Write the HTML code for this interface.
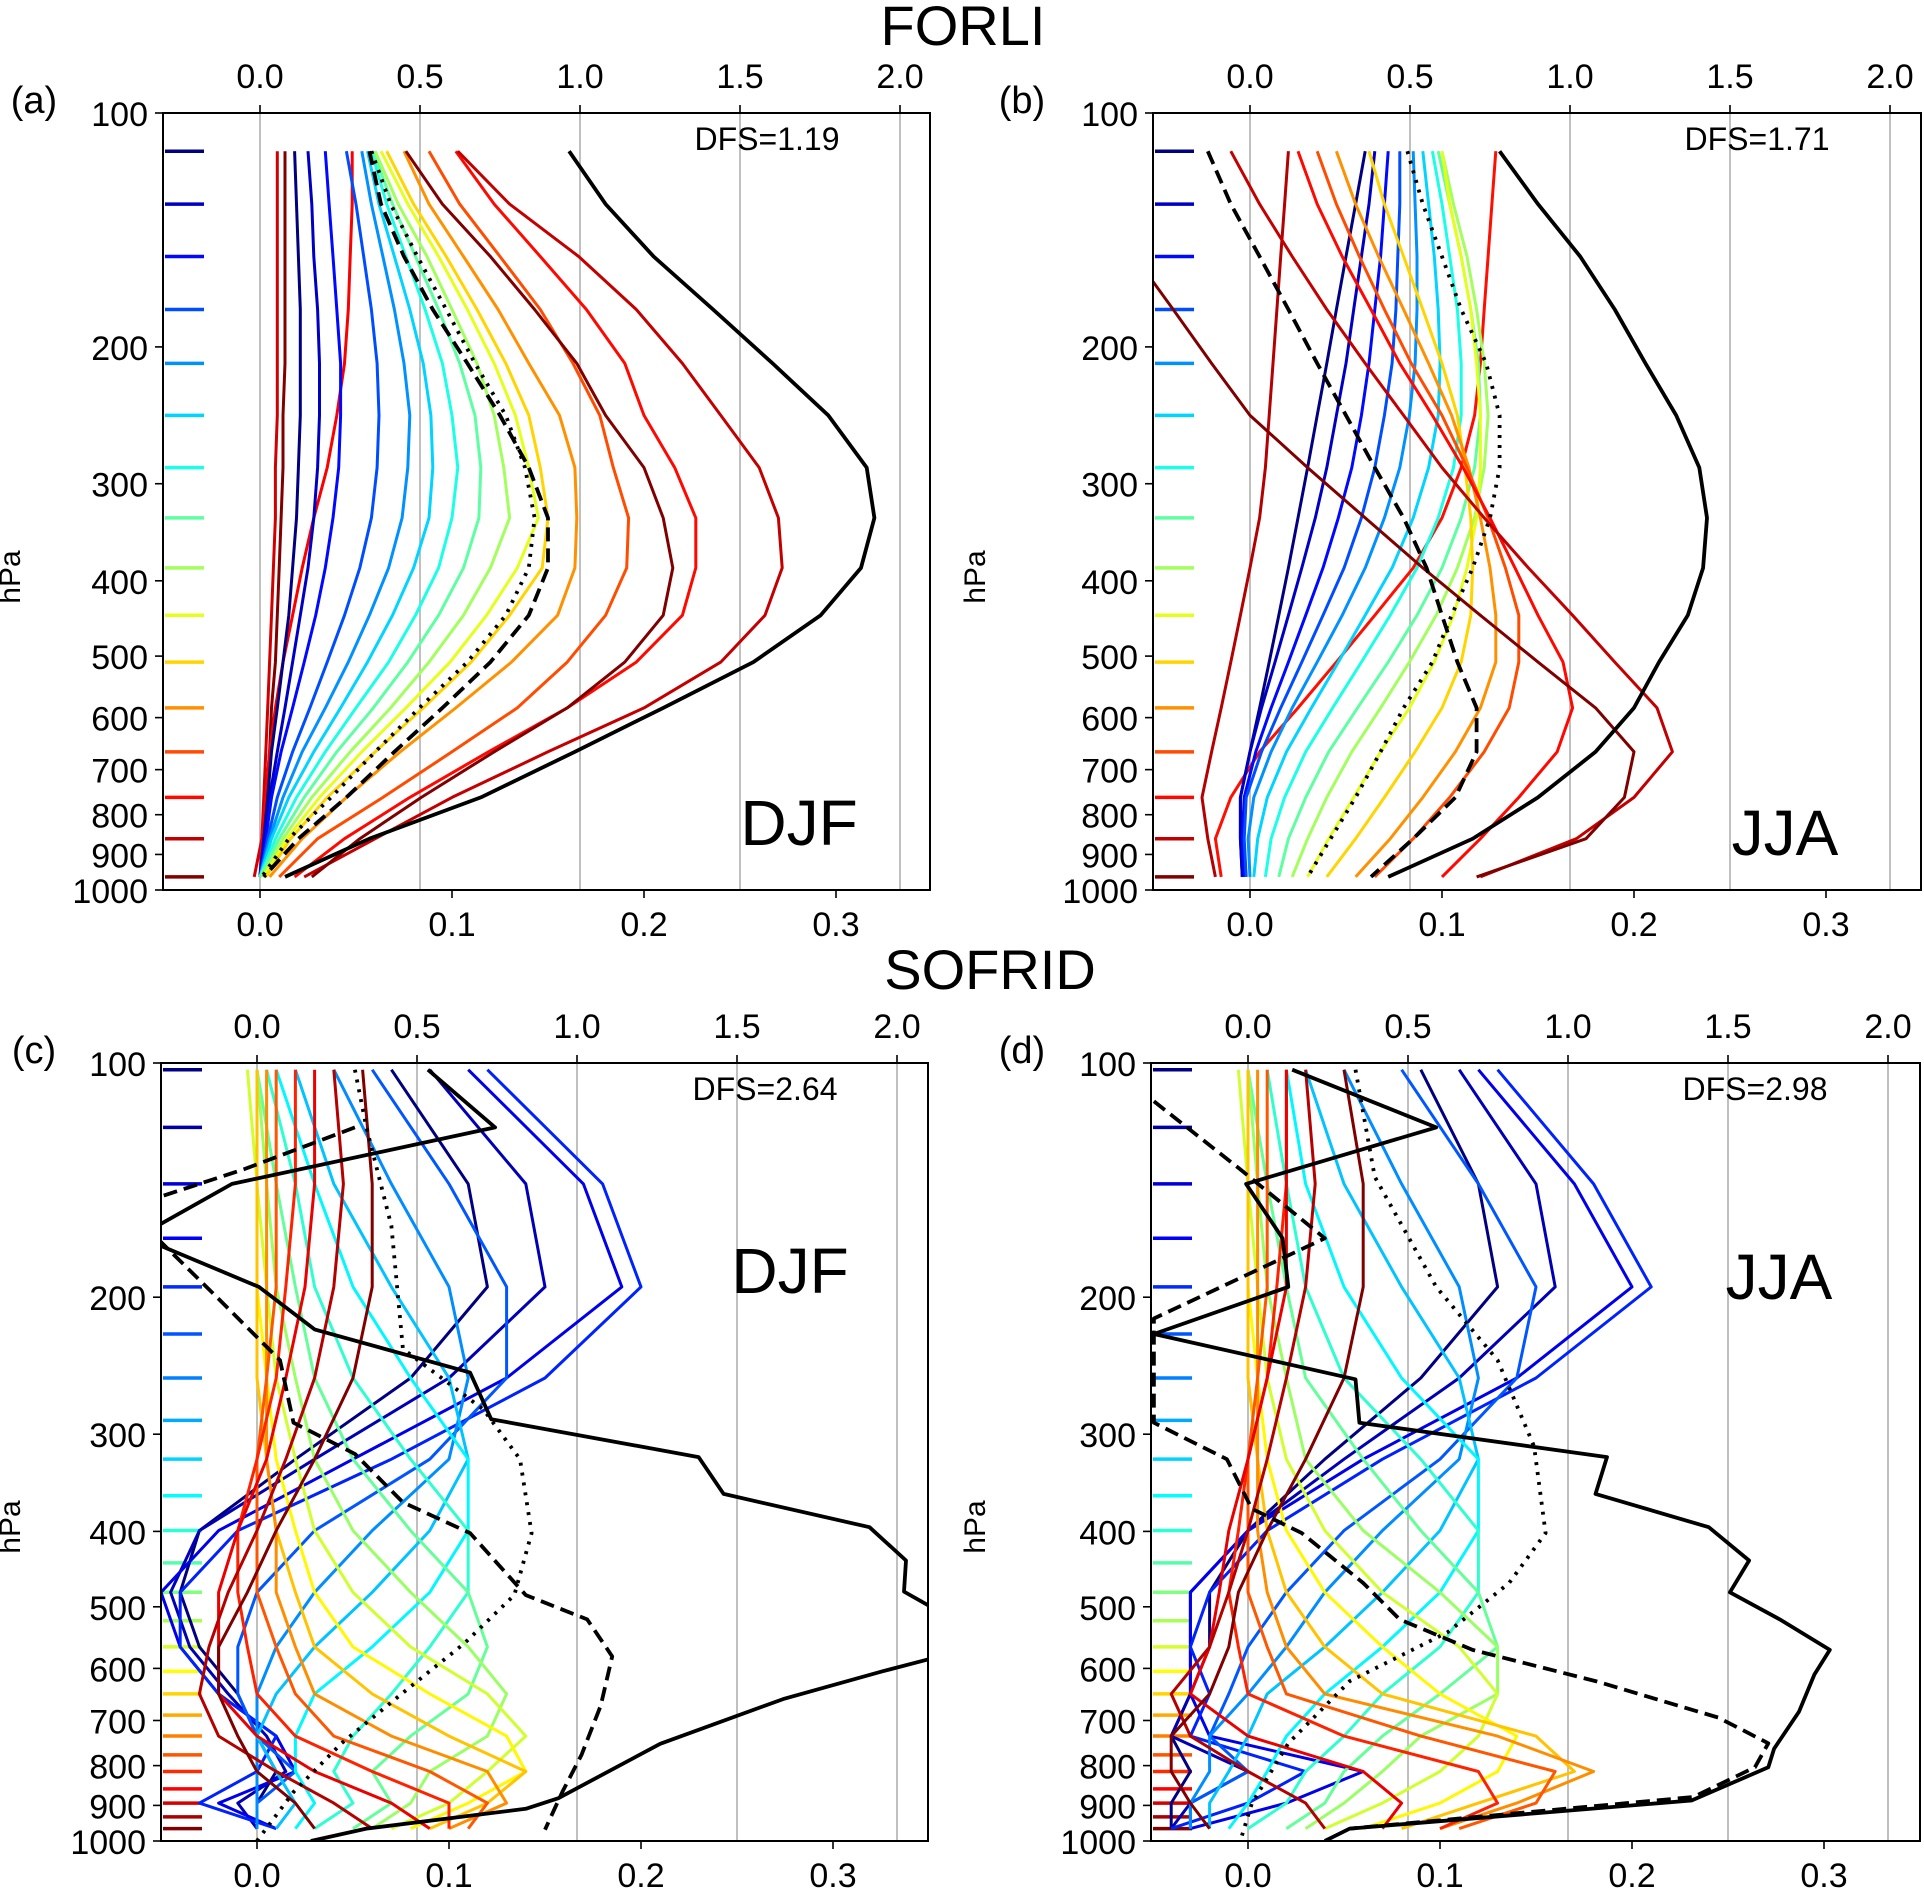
<!DOCTYPE html>
<html><head><meta charset="utf-8">
<style>
html,body{margin:0;padding:0;background:#fff;}
svg{display:block;font-family:"Liberation Sans","DejaVu Sans",sans-serif;}
</style></head>
<body>
<svg id="fig" width="1924" height="1888" viewBox="0 0 1924 1888" xmlns="http://www.w3.org/2000/svg">
<rect x="0" y="0" width="1924" height="1888" fill="#fff"/>
<text x="963" y="45" font-size="56" text-anchor="middle">FORLI</text>
<text x="990" y="989" font-size="56" text-anchor="middle">SOFRID</text>
</svg>
<script>
// ---------- data ----------
const levels16 = [112,131,153,179,210,245,286,332,385,443,509,583,664,760,859,962];
const levels13 = [102,143,194,254,323,399,479,563,647,733,814,894,964];
const markers25 = [102,121,143,168,194,223,254,288,323,360,399,439,479,521,563,605,647,689,733,775,814,857,894,931,964];
const bottomTicks = [0.0,0.1,0.2,0.3];
const bottomTickLabels = ["0.0","0.1","0.2","0.3"];
const topTicks = [0.0,0.5,1.0,1.5,2.0];
const topTickLabels = ["0.0","0.5","1.0","1.5","2.0"];
const pTicks = [100,200,300,400,500,600,700,800,900,1000];
const pTickLabels = ["100","200","300","400","500","600","700","800","900","1000"];

// panel a: FORLI DJF
const aLines = [
[.018,.019,.02,.021,.021,.021,.02,.019,.017,.015,.012,.009,.006,.004,.002,0],
[.025,.027,.028,.03,.031,.031,.03,.028,.025,.021,.017,.013,.009,.005,.002,0],
[.034,.036,.038,.04,.042,.042,.041,.038,.034,.029,.023,.017,.011,.006,.003,0],
[.045,.05,.054,.058,.061,.062,.061,.058,.052,.044,.035,.026,.017,.009,.004,0],
[.053,.058,.064,.07,.075,.078,.077,.074,.067,.057,.046,.034,.022,.012,.005,0],
[.056,.062,.07,.078,.085,.089,.09,.088,.08,.069,.056,.042,.028,.015,.006,0],
[.058,.066,.076,.086,.095,.1,.103,.1,.093,.081,.067,.05,.034,.019,.008,0],
[.059,.069,.081,.093,.104,.112,.115,.114,.106,.093,.077,.059,.04,.023,.01,0],
[.06,.072,.087,.1,.113,.122,.127,.13,.12,.106,.088,.068,.047,.027,.012,.001],
[.063,.077,.093,.108,.122,.133,.14,.145,.134,.118,.099,.076,.053,.031,.014,.002],
[.066,.08,.097,.113,.128,.14,.146,.15,.147,.13,.11,.085,.06,.035,.016,.003],
[.075,.088,.106,.124,.14,.156,.164,.165,.164,.155,.131,.102,.073,.045,.022,.005],
[.088,.104,.125,.146,.163,.177,.184,.192,.191,.18,.16,.134,.1,.064,.03,.01],
[.102,.122,.146,.17,.19,.2,.216,.227,.227,.22,.196,.16,.119,.078,.044,.018],
[.103,.13,.166,.196,.22,.24,.26,.27,.272,.263,.24,.2,.15,.1,.06,.023],
[.076,.095,.12,.143,.165,.18,.2,.21,.215,.21,.19,.16,.122,.084,.052,.027]];
const aExtraDarkRed = [.013,.013,.013,.013,.013,.012,.012,.011,.01,.009,.008,.006,.005,.003,.002,0];
const aExtraRed = [.009,.009,.009,.009,.009,.009,.008,.008,.007,.006,.005,.004,.003,.002,.001,-.003];
const aExtraOrangeRed = [.048,.048,.047,.046,.044,.04,.035,.028,.022,.017,.012,.008,.005,.003,.001,0];
const aBlack = [.161,.18,.205,.236,.267,.296,.316,.32,.313,.292,.257,.21,.164,.115,.057,.013];
const aDashed = [.057,.063,.075,.09,.108,.125,.14,.15,.15,.14,.12,.095,.07,.045,.02,.002];
const aDotted = [.058,.068,.082,.097,.112,.128,.138,.143,.14,.128,.108,.083,.06,.037,.015,.001];

// panel b: FORLI JJA
const bLines = [
[.06,.055,.05,.045,.04,.035,.03,.025,.02,.015,.01,.005,0,-.005,-.005,-.004],
[.065,.062,.058,.054,.05,.045,.04,.034,.027,.02,.013,.006,0,-.005,-.005,-.004],
[.072,.07,.068,.065,.062,.058,.053,.046,.038,.029,.02,.011,.003,-.003,-.004,-.003],
[.078,.078,.077,.076,.074,.07,.065,.058,.049,.038,.027,.016,.006,-.002,-.003,-.002],
[.085,.086,.087,.087,.086,.083,.078,.07,.06,.048,.035,.022,.011,.002,-.001,0],
[.09,.093,.096,.098,.099,.098,.093,.085,.074,.06,.046,.032,.019,.009,.004,.002],
[.095,.1,.104,.108,.11,.11,.106,.098,.087,.073,.058,.043,.029,.018,.011,.008],
[.098,.104,.11,.115,.119,.12,.117,.11,.1,.087,.072,.056,.041,.029,.02,.015],
[.1,.106,.113,.118,.122,.124,.122,.117,.108,.097,.083,.068,.053,.04,.03,.022],
[.1,.104,.11,.115,.118,.12,.12,.118,.113,.106,.096,.083,.068,.054,.041,.03],
[.062,.07,.08,.09,.1,.108,.112,.115,.116,.115,.11,.1,.086,.07,.055,.04],
[.045,.055,.067,.08,.093,.105,.114,.12,.125,.128,.128,.12,.107,.09,.073,.055],
[.035,.045,.057,.07,.084,.1,.113,.124,.133,.14,.14,.135,.122,.104,.085,.065],
[.025,.035,.048,.063,.078,.095,.111,.125,.138,.15,.163,.168,.16,.14,.12,.1],
[-.01,.005,.022,.04,.06,.08,.1,.122,.145,.168,.19,.212,.22,.2,.17,.12],
[-.1,-.08,-.06,-.04,-.02,0,.03,.06,.09,.12,.15,.18,.2,.195,.175,.118]];
const bExtraRed = [.128,.126,.124,.122,.12,.117,.11,.1,.085,.065,.045,.025,.005,-.01,-.018,-.015];
const bExtraDarkRed = [.02,.018,.016,.014,.012,.01,.008,.005,0,-.005,-.01,-.015,-.02,-.025,-.022,-.018];
const bBlack = [.13,.15,.172,.19,.206,.222,.234,.238,.236,.228,.213,.2,.18,.15,.116,.072];
const bDashed = [-.022,-.01,.005,.02,.035,.05,.065,.08,.092,.1,.108,.118,.118,.107,.085,.063];
const bDotted = [.082,.09,.1,.11,.123,.13,.13,.125,.116,.105,.095,.08,.068,.055,.042,.03];

// panel c: SOFRID DJF
const cLines = [
[.07,.11,.12,.08,.02,-.03,-.04,-.03,-.01,0,.01,0,0],
[.09,.14,.15,.1,.03,-.03,-.045,-.035,-.015,.005,.015,-.01,0],
[.11,.17,.19,.13,.05,-.02,-.05,-.04,-.02,.01,.02,-.02,.01],
[.12,.18,.2,.15,.07,-.01,-.04,-.04,-.02,.01,0,-.03,.01],
[.06,.1,.13,.13,.09,.03,0,-.01,-.01,0,.02,0,0],
[.04,.07,.1,.11,.1,.06,.03,.01,0,0,0,0,0],
[.02,.04,.07,.1,.11,.09,.06,.03,.01,0,.01,.02,.01],
[.01,.03,.05,.08,.11,.11,.09,.06,.03,.02,.02,.03,.02],
[.005,.02,.03,.05,.08,.11,.11,.09,.07,.05,.04,.05,.03],
[0,.01,.02,.03,.05,.08,.11,.12,.11,.08,.06,.07,.05],
[0,.005,.01,.02,.03,.05,.08,.11,.13,.12,.09,.08,.06],
[-.005,0,.005,.01,.02,.03,.05,.08,.12,.14,.12,.1,.07],
[0,0,0,.005,.01,.02,.03,.05,.09,.13,.14,.11,.08],
[0,0,0,0,.005,.01,.02,.03,.06,.1,.14,.12,.09],
[.005,.005,.005,.005,.005,.01,.01,.02,.03,.07,.12,.13,.1],
[.01,.01,.01,.005,0,0,0,.01,.02,.04,.09,.12,.11],
[.02,.02,.015,.01,0,-.01,-.01,-.005,0,.02,.06,.1,.1],
[.03,.03,.025,.015,.005,-.01,-.02,-.02,-.02,0,.03,.07,.09],
[.04,.045,.04,.03,.015,0,-.015,-.025,-.03,-.02,.01,.04,.06],
[.055,.06,.06,.05,.03,.01,-.005,-.02,-.02,-.01,0,.02,.03]];
const cBlackP = [102,121,143,162,171,194,220,250,287,321,358,395,436,478,500,583,605,657,750,881,909,964,1000];
const cBlackV = [.089,.124,-.013,-.052,-.052,.001,.03,.111,.122,.23,.243,.319,.338,.337,.351,.351,.326,.274,.21,.157,.14,.057,.028];
const cDashedP = [121,137,149,168,201,241,290,318,367,402,483,519,579,670,775,865,967];
const cDashedV = [.051,-.007,-.052,-.052,-.02,.012,.019,.051,.076,.111,.14,.172,.185,.179,.169,.159,.15];
const cDottedP = [102,121,162,233,279,323,402,483,557,645,749,865,1000];
const cDottedV = [.051,.057,.07,.076,.118,.137,.143,.134,.108,.076,.044,.019,0];

// panel d: SOFRID JJA
const dLines = [
[.09,.12,.13,.09,.04,0,-.02,-.02,-.03,-.04,-.03,-.04,-.04],
[.11,.15,.16,.11,.05,0,-.03,-.03,-.03,-.04,0,-.03,-.04],
[.12,.17,.2,.14,.06,0,-.03,-.03,-.03,-.02,.06,.02,-.03],
[.13,.18,.21,.15,.07,.01,-.02,-.03,-.02,-.03,.03,0,-.04],
[.08,.12,.15,.14,.1,.05,.02,0,-.01,-.02,0,-.03,-.03],
[.05,.08,.11,.12,.11,.07,.04,.02,0,-.02,-.02,-.03,-.03],
[.03,.05,.08,.11,.12,.1,.07,.04,.01,0,-.01,-.02,-.02],
[.02,.03,.05,.08,.12,.12,.1,.07,.04,.02,.01,0,-.01],
[.01,.02,.03,.05,.09,.12,.12,.1,.07,.05,.03,.02,0],
[0,.01,.02,.03,.06,.09,.12,.13,.1,.07,.05,.04,.02],
[0,.005,.01,.02,.03,.06,.1,.13,.13,.09,.07,.05,.03],
[-.005,0,.005,.01,.02,.04,.07,.11,.13,.12,.1,.07,.04],
[0,0,0,.005,.01,.02,.04,.07,.1,.14,.13,.1,.06],
[0,0,0,0,.005,.01,.02,.04,.07,.15,.17,.12,.08],
[.005,.005,.005,.005,.005,.005,.01,.02,.04,.13,.18,.14,.1],
[.01,.01,.01,.005,0,0,0,.01,.02,.09,.16,.15,.11],
[.02,.02,.015,.01,0,-.005,-.01,-.005,0,.05,.12,.13,.1],
[.02,.02,.02,.01,0,-.01,-.015,-.02,-.03,0,.06,.08,.07],
[.03,.035,.03,.02,.01,0,-.01,-.02,-.04,-.03,0,.03,.04],
[.05,.06,.06,.05,.03,.01,-.005,-.01,-.02,-.04,-.04,-.03,-.02]];
const dBlackP = [102,121,143,168,194,223,255,290,321,358,395,436,479,519,568,611,682,761,804,887,964,1000];
const dBlackV = [.023,.098,-.001,.018,.021,-.049,.056,.058,.187,.181,.24,.261,.251,.277,.303,.295,.287,.274,.271,.231,.053,.04];
const dDashedP = [112,137,168,213,290,323,374,402,466,519,568,623,694,749,804,878,964];
const dDashedV = [-.049,-.004,.04,-.049,-.049,-.011,.002,.028,.06,.079,.117,.181,.245,.271,.264,.232,.053];
const dDottedP = [102,140,194,241,311,402,466,539,623,749,895,1000];
const dDottedV = [.056,.066,.098,.13,.149,.155,.136,.104,.053,.021,.002,-.004];

// ---------- drawing ----------
const NS = "http://www.w3.org/2000/svg";
const svg = document.getElementById('fig');
function jet(t){
  const c = v => Math.round(255*Math.max(0,Math.min(1,v)));
  return `rgb(${c(1.5-Math.abs(4*t-3))},${c(1.5-Math.abs(4*t-2))},${c(1.5-Math.abs(4*t-1))})`;
}
function mk(tag, attrs, parent){
  const e = document.createElementNS(NS, tag);
  for (const k in attrs) e.setAttribute(k, attrs[k]);
  (parent||svg).appendChild(e);
  return e;
}
const panels = {
  a:{L:163,R:930,T:113,B:890,x0:260,label:"(a)",dfs:"DFS=1.19",season:"DJF",sx:799,sy:845,lx:34,hx:20},
  b:{L:1153,R:1921,T:113,B:890,x0:1250,label:"(b)",dfs:"DFS=1.71",season:"JJA",sx:1785,sy:855,lx:1022,hx:985},
  c:{L:161,R:928,T:1063,B:1841,x0:257,label:"(c)",dfs:"DFS=2.64",season:"DJF",sx:790,sy:1293,lx:34,hx:20},
  d:{L:1151,R:1920,T:1063,B:1841,x0:1248,label:"(d)",dfs:"DFS=2.98",season:"JJA",sx:1779,sy:1299,lx:1022,hx:985}
};
const SCALE = 1920;
function xs(P,v){ return P.x0 + v*SCALE; }
function ys(P,p){ return P.T + (P.B-P.T)*Math.log10(p/100); }

function drawPanel(key, P){
  const g = mk('g',{});
  
  
  const cp = mk('clipPath',{id:'clip-'+key}, g);
  mk('rect',{x:P.L,y:P.T,width:P.R-P.L,height:P.B-P.T}, cp);
  topTicks.forEach((t,i)=>{
    const x = xs(P,t/6);
    const gl = mk('line',{x1:x,x2:x,y1:P.T,y2:P.B,stroke:'#b0b0b0','stroke-width':1.6}, g);
    
    
  });
  P.g = g;
  P.plot = mk('g',{'clip-path':`url(#clip-${key})`}, g);
  
  
}
function drawAxes(key, P){
  const g = P.g;
  const fr = mk('rect',{x:P.L,y:P.T,width:P.R-P.L,height:P.B-P.T,fill:'none',stroke:'#000','stroke-width':2}, g);
  
  
  bottomTicks.forEach((t,i)=>{
    const x = xs(P,t);
    mk('line',{x1:x,x2:x,y1:P.B,y2:P.B+8,stroke:'#000','stroke-width':1.6}, g);
    const tx = mk('text',{x:x,y:P.B+46,'font-size':34,'text-anchor':'middle'}, g);
    tx.textContent = bottomTickLabels[i];
    
    
  });
  topTicks.forEach((t,i)=>{
    const x = xs(P,t/6);
    mk('line',{x1:x,x2:x,y1:P.T,y2:P.T-8,stroke:'#000','stroke-width':1.6}, g);
    const tx = mk('text',{x:x,y:P.T-25,'font-size':34,'text-anchor':'middle'}, g);
    tx.textContent = topTickLabels[i];
    
    
  });
  pTicks.forEach((p,i)=>{
    const y = ys(P,p);
    mk('line',{x1:P.L,x2:P.L-8,y1:y,y2:y,stroke:'#000','stroke-width':1.6}, g);
    const tx = mk('text',{x:P.L-15,y:y+13,'font-size':34,'text-anchor':'end'}, g);
    tx.textContent = pTickLabels[i];
    
    
  });
  const lb = mk('text',{x:P.lx,y:P.T,'font-size':38,'text-anchor':'middle'}, g);
  lb.textContent = P.label;
  
  
  const yc = P.T + 464;
  const ht = mk('text',{x:P.hx,y:yc,'font-size':30,'text-anchor':'middle',transform:`rotate(-90 ${P.hx} ${yc})`}, g);
  ht.textContent = 'hPa';
  
  
  const df = mk('text',{x:P.L+604,y:P.T+37,'font-size':32,'text-anchor':'middle'}, g);
  df.textContent = P.dfs;
  
  
  const se = mk('text',{x:P.sx,y:P.sy,'font-size':64,'text-anchor':'middle'}, g);
  se.textContent = P.season;
  
  
}
function series(P, ps, vs, color, width, dash, name){
  const pts = ps.map((p,i)=>xs(P,vs[i]).toFixed(1)+','+ys(P,p).toFixed(1)).join(' ');
  const a = {points:pts,fill:'none',stroke:color,'stroke-width':width,'stroke-linejoin':'round'};
  if (dash) a['stroke-dasharray'] = dash;
  const el = mk('polyline', a, P.plot);
  
  
}
function markers(P, levs){
  levs.forEach((p,i)=>{
    const y = ys(P,p);
    const m = mk('line',{x1:P.L+2,x2:P.L+41,y1:y,y2:y,stroke:jet(i/(levs.length-1)),'stroke-width':3.5}, P.plot);
    
    
  });
}

Object.keys(panels).forEach(k=>drawPanel(k, panels[k]));
const LW = 3;

let P = panels.a;
markers(P, levels16);
series(P, levels16, aExtraDarkRed, jet(1), LW, null, 'kernel-extra-dark-red');
series(P, levels16, aExtraRed, jet(0.92), LW, null, 'kernel-extra-red');
series(P, levels16, aExtraOrangeRed, jet(0.88), LW, null, 'kernel-extra-orange-red');
aLines.forEach((vs,i)=>series(P, levels16, vs, jet(i/15), LW, null, 'kernel-line-'+i));
series(P, levels16, aDashed, '#000', 3.8, '14 7', 'dashed-black-line');
series(P, levels16, aDotted, '#000', 3.8, '3 7', 'dotted-black-line');
series(P, levels16, aBlack, '#000', 3.8, null, 'solid-black-line');

P = panels.b;
markers(P, levels16);
series(P, levels16, bExtraDarkRed, jet(0.95), LW, null, 'kernel-extra-dark-red');
series(P, levels16, bExtraRed, jet(0.86), LW, null, 'kernel-extra-red');
bLines.forEach((vs,i)=>series(P, levels16, vs, jet(i/15), LW, null, 'kernel-line-'+i));
series(P, levels16, bDashed, '#000', 3.8, '14 7', 'dashed-black-line');
series(P, levels16, bDotted, '#000', 3.8, '3 7', 'dotted-black-line');
series(P, levels16, bBlack, '#000', 3.8, null, 'solid-black-line');

P = panels.c;
markers(P, markers25);
cLines.forEach((vs,i)=>series(P, levels13, vs, jet(i/19), LW, null, 'kernel-line-'+i));
series(P, cDashedP, cDashedV, '#000', 3.8, '14 7', 'dashed-black-line');
series(P, cDottedP, cDottedV, '#000', 3.8, '3 7', 'dotted-black-line');
series(P, cBlackP, cBlackV, '#000', 3.8, null, 'solid-black-line');

P = panels.d;
markers(P, markers25);
dLines.forEach((vs,i)=>series(P, levels13, vs, jet(i/19), LW, null, 'kernel-line-'+i));
series(P, dDashedP, dDashedV, '#000', 3.8, '14 7', 'dashed-black-line');
series(P, dDottedP, dDottedV, '#000', 3.8, '3 7', 'dotted-black-line');
series(P, dBlackP, dBlackV, '#000', 3.8, null, 'solid-black-line');

Object.keys(panels).forEach(k=>drawAxes(k, panels[k]));
</script>
</body></html>
